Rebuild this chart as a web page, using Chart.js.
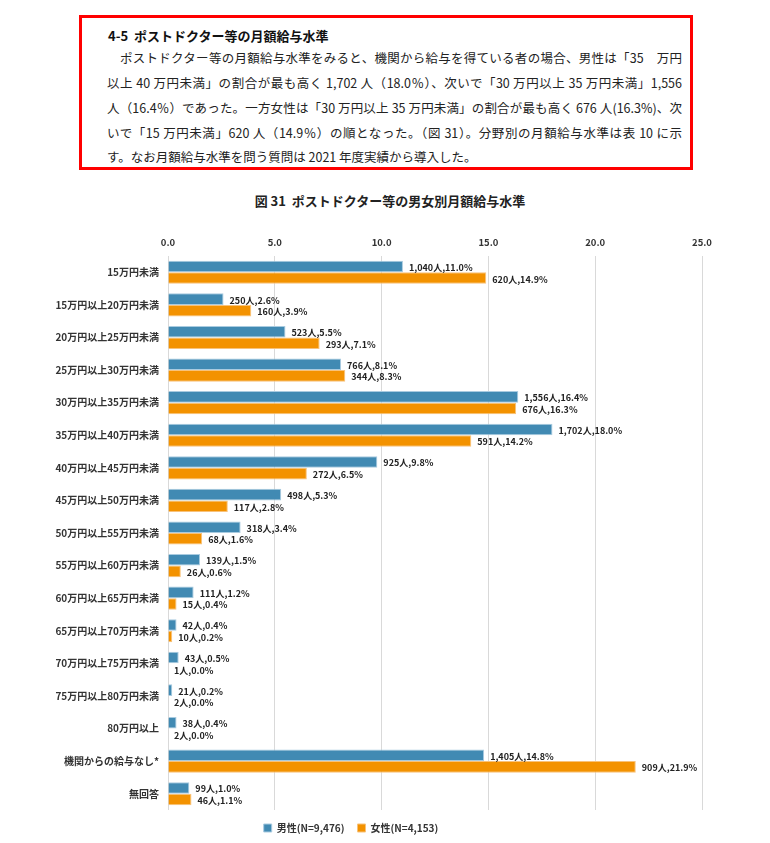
<!DOCTYPE html>
<html><head><meta charset="utf-8">
<script src="https://cdn.jsdelivr.net/npm/chart.js@4/dist/chart.umd.min.js"></script>
<style>
html,body{margin:0;padding:0;background:#fff;width:770px;height:843px;overflow:hidden;font-family:"Noto Sans CJK JP",sans-serif;}
#box{position:absolute;left:79px;top:15px;width:608px;height:149px;border:3px solid #ff0000;}
#box .t{position:absolute;left:26px;top:8px;font-size:13px;font-weight:bold;color:#111;}
#box .ln{position:absolute;left:25px;width:575px;font-size:12.5px;color:#222;text-align:justify;text-align-last:justify;white-space:nowrap;line-height:20px;}
#box .ln.last{text-align-last:left;}
#ctitle{position:absolute;left:0;width:780px;top:191px;text-align:center;font-size:13px;font-weight:bold;color:#222;}
#wrap{position:absolute;left:0;top:225px;width:770px;height:618px;}
</style></head>
<body>
<div id="box">
<div class="t">4-5&nbsp; ポストドクター等の月額給与水準</div>
<div class="ln" style="top:30px;padding-left:13px;width:562px;">ポストドクター等の月額給与水準をみると、機関から給与を得ている者の場合、男性は「35　万円</div>
<div class="ln" style="top:55px;">以上 40 万円未満」の割合が最も高く 1,702 人（18.0％）、次いで「30 万円以上 35 万円未満」1,556</div>
<div class="ln" style="top:80px;">人（16.4％）であった。一方女性は「30 万円以上 35 万円未満」の割合が最も高く 676 人(16.3%)、次</div>
<div class="ln" style="top:105px;">いで「15 万円未満」620 人（14.9％）の順となった。（図 31）。分野別の月額給与水準は表 10 に示</div>
<div class="ln last" style="top:129px;">す。なお月額給与水準を問う質問は 2021 年度実績から導入した。</div>
</div>
<div id="ctitle">図 31&nbsp; ポストドクター等の男女別月額給与水準</div>
<div id="wrap"><canvas id="c" width="770" height="618"></canvas></div>
<script>
const categories = ["15万円未満","15万円以上20万円未満","20万円以上25万円未満","25万円以上30万円未満","30万円以上35万円未満","35万円以上40万円未満","40万円以上45万円未満","45万円以上50万円未満","50万円以上55万円未満","55万円以上60万円未満","60万円以上65万円未満","65万円以上70万円未満","70万円以上75万円未満","75万円以上80万円未満","80万円以上","機関からの給与なし*","無回答"];
const maleCounts = [1040,250,523,766,1556,1702,925,498,318,139,111,42,43,21,38,1405,99];
const malePct = [11.0,2.6,5.5,8.1,16.4,18.0,9.8,5.3,3.4,1.5,1.2,0.4,0.5,0.2,0.4,14.8,1.0];
const femaleCounts = [620,160,293,344,676,591,272,117,68,26,15,10,1,2,2,909,46];
const femalePct = [14.9,3.9,7.1,8.3,16.3,14.2,6.5,2.8,1.6,0.6,0.4,0.2,0.0,0.0,0.0,21.9,1.1];
const seriesNames = ["男性(N=9,476)","女性(N=4,153)"];
const xTicks = [0,5,10,15,20,25];

const FONT = '"Noto Sans CJK JP", sans-serif';
const countsBySeries = [maleCounts, femaleCounts];

const labelPlugin = {
  id: 'barLabels',
  afterDatasetsDraw(chart) {
    const ctx = chart.ctx;
    ctx.save();
    ctx.font = 'bold 9px ' + FONT;
    ctx.fillStyle = '#222';
    ctx.textAlign = 'left';
    ctx.textBaseline = 'middle';
    chart.data.datasets.forEach((ds, di) => {
      const meta = chart.getDatasetMeta(di);
      meta.data.forEach((el, i) => {
        const txt = countsBySeries[di][i].toLocaleString('en-US') + '人,' + ds.data[i].toFixed(1) + '%';
        ctx.fillText(txt, el.x + 6, el.y + 1);
      });
    });
    ctx.restore();
  }
};

new Chart(document.getElementById('c'), {
  type: 'bar',
  data: {
    labels: categories,
    datasets: [
      { label: seriesNames[0], data: malePct, backgroundColor: '#418ab3', borderColor: '#a9cbe0', borderWidth: 1, categoryPercentage: 0.71, barPercentage: 1.0 },
      { label: seriesNames[1], data: femalePct, backgroundColor: '#f39200', borderColor: '#f8c27a', borderWidth: 1, categoryPercentage: 0.71, barPercentage: 1.0 }
    ]
  },
  options: {
    indexAxis: 'y',
    responsive: false,
    animation: false,
    layout: { padding: { left: 0, right: 68, top: 0, bottom: 0 } },
    plugins: {
      title: { display: false },
      tooltip: { enabled: false },
      legend: {
        position: 'bottom',
        labels: { boxWidth: 8, boxHeight: 8, padding: 13, color: '#333', font: { family: FONT, size: 10, weight: 'bold' } }
      }
    },
    scales: {
      x: {
        position: 'top', min: 0, max: 25,
        afterBuildTicks: (s) => { s.ticks = xTicks.map(v => ({ value: v })); },
        afterFit: (s) => { s.height = 31; },
        grid: { color: '#d9d9d9', drawTicks: false, lineWidth: 1 },
        border: { display: false },
        ticks: { padding: 8, color: '#333', font: { family: FONT, size: 9.5, weight: 'bold' }, callback: (v) => Number(v).toFixed(1) }
      },
      y: {
        afterFit: (s) => { s.width = 168; },
        grid: { display: false, drawTicks: false },
        border: { display: false },
        ticks: { padding: 9, color: '#333', font: { family: FONT, size: 10, weight: 'bold' } }
      }
    }
  },
  plugins: [labelPlugin]
});
</script>
</body></html>
